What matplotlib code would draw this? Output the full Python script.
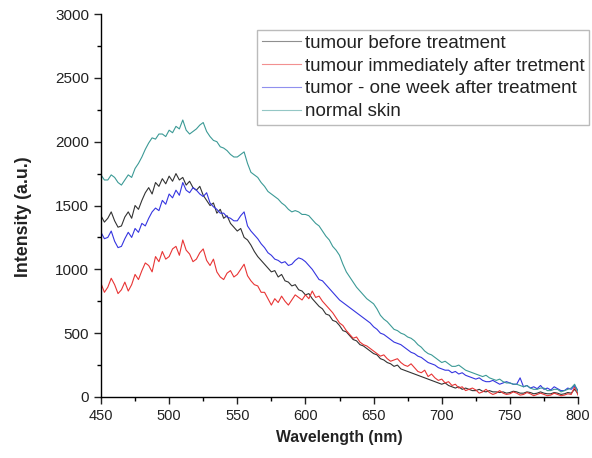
import numpy as np
import matplotlib
matplotlib.use("Agg")
import matplotlib.pyplot as plt
from matplotlib.ticker import MultipleLocator

plt.rcParams['font.family'] = ['Liberation Sans', 'DejaVu Sans']

# fluorescence spectra, 450-800 nm in 2.5 nm steps
wavelength = np.arange(450, 800.1, 2.5)

before = [1420, 1370, 1400, 1450, 1380, 1330, 1340, 1410, 1450, 1400,
          1500, 1470, 1540, 1600, 1640, 1590, 1680, 1650, 1710, 1670,
          1730, 1690, 1750, 1700, 1720, 1660, 1690, 1640, 1620, 1650,
          1580, 1540, 1500, 1520, 1440, 1470, 1400, 1420, 1360, 1330,
          1300, 1320, 1250, 1230, 1190, 1140, 1100, 1070, 1040, 1010,
          980, 990, 940, 960, 910, 900, 870, 880, 840, 830,
          800, 810, 770, 740, 710, 690, 650, 640, 600, 590,
          560, 520, 510, 480, 450, 440, 410, 400, 380, 360,
          340, 330, 300, 290, 270, 260, 240, 250, 220, 210,
          200, 190, 180, 170, 160, 150, 140, 130, 120, 110,
          100, 110, 90, 80, 70, 80, 60, 70, 60, 50,
          50, 60, 45, 40, 50, 40, 40, 35, 40, 30,
          35, 45, 40, 30, 30, 40, 35, 25, 30, 40,
          30, 25, 25, 35, 30, 20, 25, 35, 30, 60,
          25]

immediately = [890, 820, 860, 930, 880, 810, 840, 900, 830, 880,
               960, 920, 990, 1050, 1030, 980, 1100, 1060, 1140, 1080,
               1100, 1160, 1180, 1110, 1230, 1150, 1120, 1060, 1080, 1130,
               1160, 1070, 1030, 1080, 980, 940, 920, 970, 990, 940,
               960, 1000, 1040, 950, 910, 880, 870, 820, 820, 770,
               720, 770, 740, 790, 750, 720, 760, 800, 780, 760,
               800, 770, 830, 780, 790, 750, 720, 690, 660, 620,
               580, 560, 520, 490, 460, 470, 430, 410, 400, 380,
               360, 340, 320, 330, 300, 280, 290, 300, 270, 250,
               240, 260, 230, 200, 190, 210, 160, 180, 150, 130,
               140, 110, 120, 90, 100, 70, 80, 50, 60, 70,
               55, 30, 40, 60, 35, 20, 30, 50, 30, 20,
               25, 40, 30, 15, 20, 35, 25, 10, 20, 30,
               20, 10, 15, 30, 20, 10, 15, 25, 20, 80,
               15]

one_week = [1290, 1240, 1250, 1300, 1220, 1170, 1180, 1240, 1290, 1250,
            1320, 1290, 1360, 1340, 1400, 1450, 1480, 1460, 1540, 1510,
            1590, 1560, 1620, 1580, 1680, 1620, 1600, 1640, 1620, 1590,
            1570, 1600, 1520, 1490, 1470, 1440, 1440, 1410, 1400, 1380,
            1380, 1420, 1450, 1340, 1300, 1270, 1240, 1200, 1170, 1130,
            1110, 1080, 1070, 1050, 1060, 1030, 1040, 1070, 1090, 1080,
            1060, 1030, 1000, 960, 920, 910, 880, 850, 820, 790,
            760, 740, 720, 700, 680, 660, 640, 620, 600, 580,
            550, 530, 500, 490, 470, 450, 430, 420, 410, 390,
            370, 350, 340, 320, 310, 290, 270, 260, 250, 230,
            220, 210, 210, 190, 200, 180, 190, 170, 160, 150,
            140, 150, 130, 120, 120, 130, 115, 100, 110, 120,
            110, 100, 100, 150, 80, 90, 70, 80, 65, 90,
            60, 70, 55, 80, 65, 50, 50, 70, 60, 90,
            50]

normal = [1740, 1700, 1700, 1740, 1720, 1680, 1660, 1700, 1740, 1720,
          1790, 1830, 1880, 1940, 1990, 2030, 2020, 2060, 2060, 2040,
          2090, 2070, 2120, 2100, 2170, 2090, 2060, 2080, 2100, 2130,
          2150, 2080, 2040, 2010, 2000, 1960, 1950, 1930, 1900, 1880,
          1880, 1900, 1920, 1830, 1760, 1740, 1720, 1680, 1650, 1610,
          1590, 1570, 1550, 1520, 1500, 1470, 1450, 1460, 1450, 1430,
          1430, 1420, 1390, 1360, 1340, 1300, 1260, 1230, 1180, 1150,
          1110, 1040, 980, 940, 900, 860, 830, 800, 770, 750,
          730, 690, 640, 610, 590, 560, 530, 520, 500, 490,
          470, 460, 440, 410, 390, 360, 340, 330, 310, 290,
          270, 280, 260, 240, 240, 250, 230, 210, 200, 190,
          180, 170, 160, 170, 150, 140, 130, 140, 120, 110,
          110, 100, 100, 90, 80, 90, 70, 60, 60, 70,
          70, 50, 50, 60, 60, 40, 50, 60, 70, 100,
          40]

labels = ["tumour before treatment",
          "tumour immediately after tretment",
          "tumor - one week after treatment",
          "normal skin"]
colors = ["#333333", "#e83535", "#3535e0", "#3c9a96"]

fig = plt.figure(figsize=(5.92, 4.58), dpi=100)
ax = fig.add_axes([0.1706, 0.1332, 0.8058, 0.8362])

for series, label, color in zip([before, immediately, one_week, normal], labels, colors):
    ax.plot(wavelength, series, color=color, lw=0.8, label=label)

ax.set_xlim(450, 800)
ax.set_ylim(0, 3000)
ax.xaxis.set_major_locator(MultipleLocator(50))
ax.xaxis.set_minor_locator(MultipleLocator(25))
ax.yaxis.set_major_locator(MultipleLocator(500))
ax.yaxis.set_minor_locator(MultipleLocator(250))

ax.spines['top'].set_visible(False)
ax.spines['right'].set_visible(False)
for side in ['left', 'bottom']:
    ax.spines[side].set_linewidth(1.0)
ax.tick_params(which='major', direction='out', length=5, width=1.0, colors='#222222')
ax.tick_params(which='minor', direction='out', length=3, width=1.0)
ax.tick_params(axis='x', labelsize=10.5)
ax.tick_params(axis='y', labelsize=11)

ax.set_xlabel("Wavelength (nm)", fontsize=11.3, fontweight='bold',
              color='#222222', labelpad=5)
ax.set_ylabel("Intensity (a.u.)", fontsize=12.8, fontweight='bold',
              color='#222222')
ax.yaxis.set_label_coords(-0.145, 0.47)

leg = ax.legend(loc='upper right', bbox_to_anchor=(1.023, 0.958), fontsize=13.5,
                frameon=True, fancybox=False, handlelength=2.1,
                borderpad=0.25, labelspacing=0.3, handletextpad=0.2,
                borderaxespad=0)
leg.get_frame().set_edgecolor('#aaaaaa')
leg.get_frame().set_linewidth(1.0)
for line in leg.get_lines():
    line.set_alpha(0.55)
for text in leg.get_texts():
    text.set_color('#222222')

fig.savefig("out.png", dpi=100)
